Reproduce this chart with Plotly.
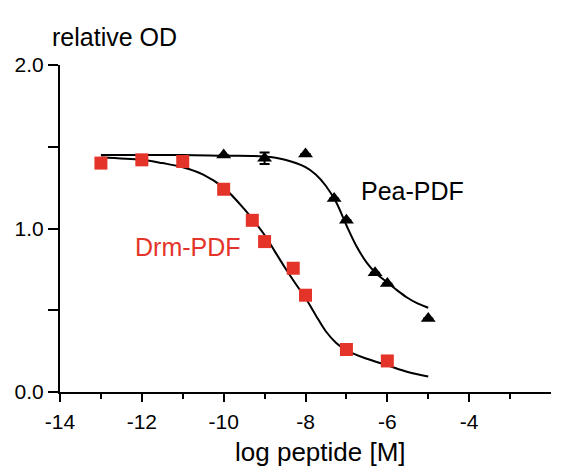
import plotly.graph_objects as go

# Measured data points (log concentration, relative OD)
drm_x = [-13, -12, -11, -10, -9.3, -9, -8.3, -8, -7, -6]
drm_y = [1.40, 1.42, 1.41, 1.24, 1.05, 0.92, 0.757, 0.592, 0.26, 0.19]

pea_x = [-10, -9, -8, -7.3, -7, -6.3, -6, -5]
pea_y = [1.45, 1.43, 1.455, 1.184, 1.051, 0.729, 0.664, 0.449]
pea_err = [0, 0.035, 0, 0, 0, 0, 0, 0]

# Fitted curves
drm_fit_x = [-13, -12, -11.5, -11, -10.5, -10, -9.5, -9, -8.75, -8.5, -8.25, -8,
             -7.75, -7.5, -7.25, -7, -6.5, -6, -5.5, -5]
drm_fit_y = [1.435, 1.42, 1.40, 1.375, 1.33, 1.25, 1.12, 0.96, 0.86, 0.76, 0.665, 0.575,
             0.47, 0.37, 0.30, 0.255, 0.203, 0.163, 0.122, 0.095]

pea_fit_x = [-13, -12, -11, -10, -9, -8.5, -8, -7.75, -7.5, -7.25, -7, -6.75,
             -6.5, -6.25, -6, -5.75, -5.5, -5.25, -5]
pea_fit_y = [1.45, 1.45, 1.45, 1.445, 1.44, 1.42, 1.375, 1.33, 1.26, 1.16, 1.02, 0.89,
             0.79, 0.72, 0.67, 0.62, 0.575, 0.54, 0.515]

x_major = [-14, -12, -10, -8, -6, -4]
x_labels = ["-14", "-12", "-10", "-8", "-6", "-4"]
x_minor = [-13, -11, -9, -7, -5, -3]
y_major = [0, 0.5, 1, 1.5, 2]
y_labels = ["0.0", "", "1.0", "", "2.0"]

RED = "#E4342A"
FONT = "Liberation Sans, Arial, sans-serif"

fig = go.Figure()
fig.add_trace(go.Scatter(x=pea_fit_x, y=pea_fit_y, mode="lines",
                         line=dict(color="black", width=2, shape="spline", smoothing=1.0),
                         hoverinfo="skip"))
fig.add_trace(go.Scatter(x=drm_fit_x, y=drm_fit_y, mode="lines",
                         line=dict(color="black", width=2, shape="spline", smoothing=1.0),
                         hoverinfo="skip"))
fig.add_trace(go.Scatter(x=pea_x, y=pea_y, mode="markers",
                         marker=dict(symbol="triangle-up", size=13, color="black"),
                         error_y=dict(type="data", array=pea_err, visible=True,
                                      color="black", thickness=2, width=5)))
fig.add_trace(go.Scatter(x=drm_x, y=drm_y, mode="markers",
                         marker=dict(symbol="square", size=13, color=RED)))

# plot area (in page pixels): x 60..551, y 65..392 ; page has an 8px body offset
PL, PT, PW, PH = 52, 57, 491, 327

fig.add_annotation(x=-5.39, y=1.229, text="Pea-PDF", showarrow=False,
                   font=dict(family=FONT, size=25, color="black"))
fig.add_annotation(x=-10.88, y=0.886, text="Drm-PDF", showarrow=False,
                   font=dict(family=FONT, size=25, color=RED))
fig.add_annotation(xref="paper", yref="paper", x=(50 - 60) / PW, y=(392 - 37) / PH,
                   xanchor="left", yanchor="middle", text="relative OD", showarrow=False,
                   font=dict(family=FONT, size=25, color="black"))
fig.add_annotation(xref="paper", yref="paper", x=(320 - 60) / PW, y=(392 - 452) / PH,
                   xanchor="center", yanchor="middle", text="log peptide [M]", showarrow=False,
                   font=dict(family=FONT, size=26, color="black"))

fig.update_layout(
    width=558, height=463,
    margin=dict(l=PL, r=558 - PL - PW, t=PT, b=463 - PT - PH, autoexpand=False),
    paper_bgcolor="white", plot_bgcolor="white",
    showlegend=False,
    font=dict(family=FONT, size=21, color="black"),
    xaxis=dict(range=[-14, -2], showgrid=False, zeroline=False,
               showline=True, linecolor="black", linewidth=2,
               tickmode="array", tickvals=x_major, ticktext=x_labels,
               ticks="outside", ticklen=8, tickwidth=2, tickcolor="black",
               ticklabelstandoff=2,
               minor=dict(tickvals=x_minor, ticks="outside", ticklen=5,
                          tickwidth=2, tickcolor="black", showgrid=False)),
    yaxis=dict(range=[0, 2], showgrid=False, zeroline=False,
               showline=True, linecolor="black", linewidth=2,
               tickmode="array", tickvals=y_major, ticktext=y_labels,
               ticks="outside", ticklen=10, tickwidth=2, tickcolor="black"),
)

fig.write_html("out.html")
